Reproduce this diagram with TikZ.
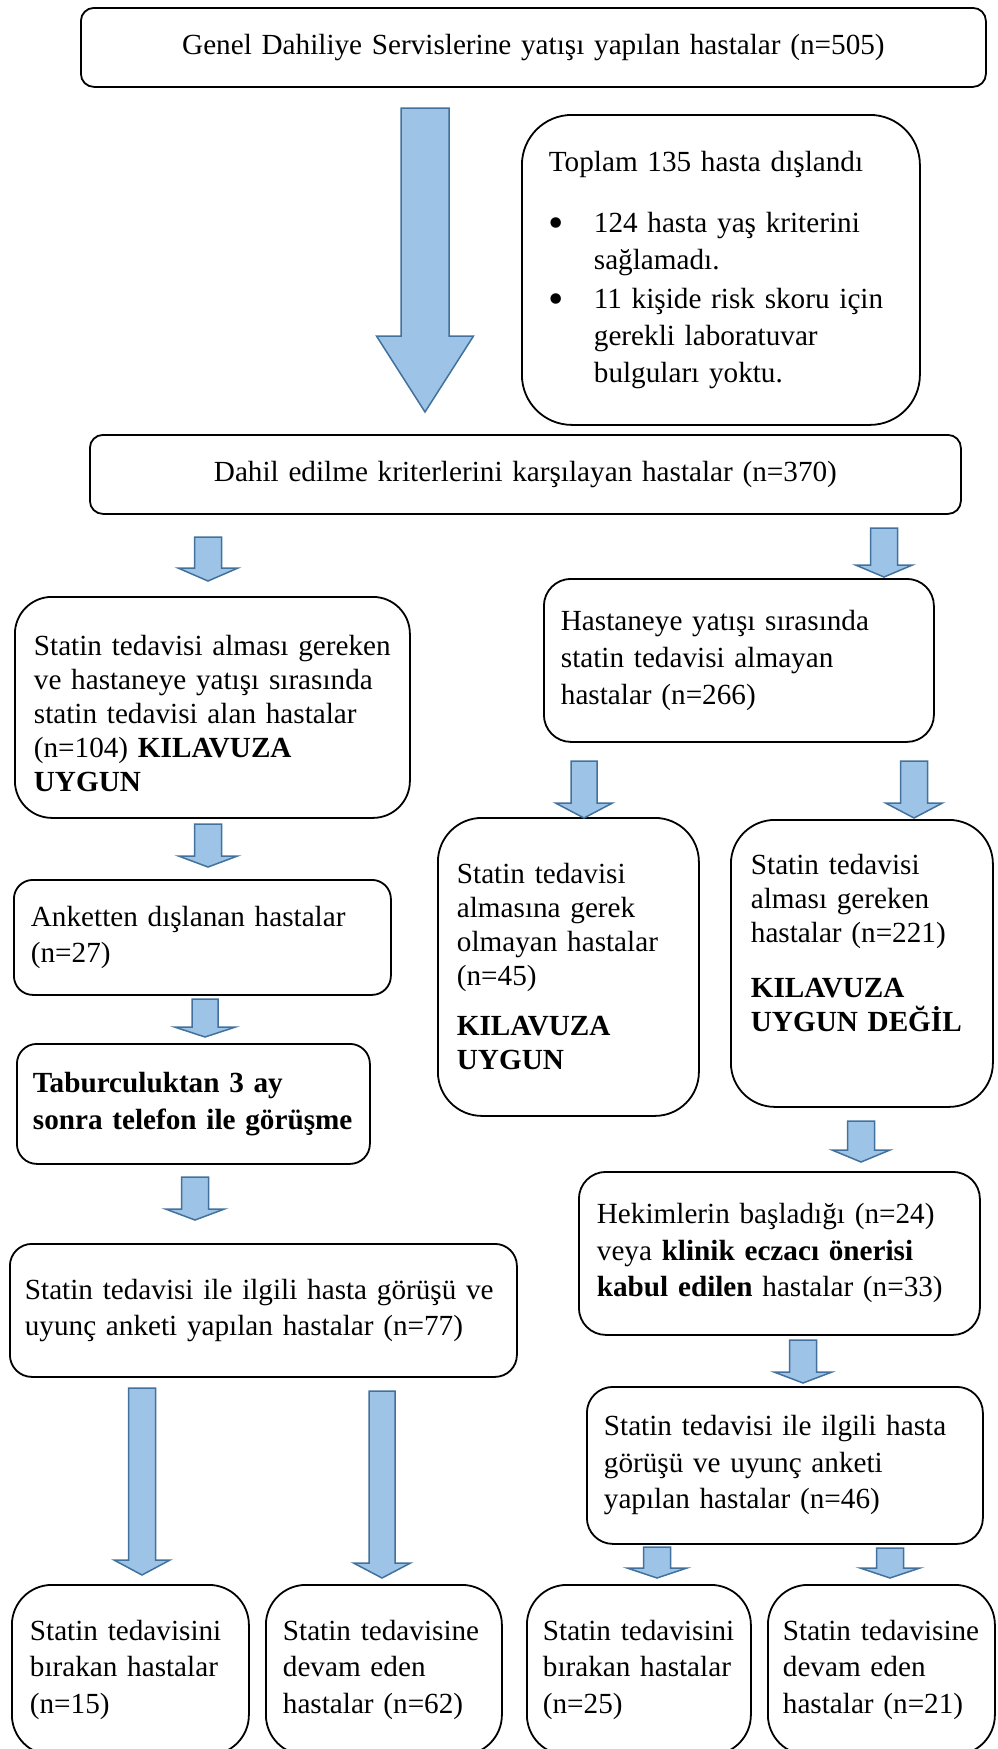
\documentclass[tikz,border=0pt]{standalone}
\usepackage{fontspec}
\setmainfont{Liberation Serif}
\usepackage{graphicx}
\usepackage{xcolor}
\usepackage{tikz}
\usetikzlibrary{positioning}
\definecolor{arrowblue}{HTML}{9DC3E6}
\definecolor{arrowedge}{HTML}{41719C}
\newcommand{\listdot}{\raisebox{-5pt}{\scalebox{1.5}{\textbullet}}}
\hyphenpenalty=10000

\tikzset{
  flowbox/.style={draw, line width=1.8pt, anchor=north west, align=left,
                  inner xsep=17pt, inner ysep=0pt,
                  font=\fontsize{29.2pt}{36.5pt}\selectfont},
  blkfill/.style={draw=arrowedge, fill=arrowblue, line width=1.5pt},
  pics/blkdown/.style args={#1/#2/#3/#4}{code={
    \draw[blkfill] (-#3,0) -- (#3,0) -- (#3,#1-#2) -- (#4,#1-#2)
      -- (0,#1) -- (-#4,#1-#2) -- (-#3,#1-#2) -- cycle;}},
}

\begin{document}
\begin{tikzpicture}[x=1pt, y=-1pt]
  \useasboundingbox (0,0) rectangle (997,1749);

  % top of the chart
  \node[flowbox, align=center, text width=871pt, minimum height=79pt, rounded corners=13pt]
    (admitted) at (80,7) {Genel Dahiliye Servislerine yatışı yapılan hastalar (n=505)};
  \node[flowbox, inner xsep=27pt, text width=344pt, minimum height=310pt, rounded corners=50pt,
        font=\fontsize{29.2pt}{37pt}\selectfont]
    (excluded) at (521,114) {%
      Toplam 135 hasta dışlandı\\[24pt]
      \makebox[45pt][l]{\listdot}124 hasta yaş kriterini\\
      \hspace*{45pt}sağlamadı.\\[2pt]
      \makebox[45pt][l]{\listdot}11 kişide risk skoru için\\
      \hspace*{45pt}gerekli laboratuvar\\
      \hspace*{45pt}bulguları yoktu.};
  \node[flowbox, align=center, text width=837pt, minimum height=79pt, rounded corners=13pt]
    (included) at (89,434) {Dahil edilme kriterlerini karşılayan hastalar (n=370)};

  % left branch
  \node[flowbox, inner xsep=19pt, text width=357pt, minimum height=221pt, rounded corners=37pt,
        font=\fontsize{29.2pt}{34pt}\selectfont]
    (onstatin) at (14,596) {\rule{0pt}{32pt}Statin tedavisi alması gereken\\
      ve hastaneye yatışı sırasında\\
      statin tedavisi alan hastalar\\
      (n=104) \textbf{KILAVUZA}\\
      \textbf{UYGUN}};
  \node[flowbox, text width=343pt, minimum height=115pt, rounded corners=19pt]
    (surveyout) at (13,879) {Anketten dışlanan hastalar\\ (n=27)};
  \node[flowbox, inner xsep=16pt, text width=321pt, minimum height=120pt, rounded corners=20pt]
    (phonecall) at (16,1043) {\textbf{Taburculuktan 3 ay}\\ \textbf{sonra telefon ile görüşme}};
  \node[flowbox, inner xsep=15pt, text width=477pt, minimum height=133pt, rounded corners=22pt]
    (surveyA) at (9,1243) {Statin tedavisi ile ilgili hasta görüşü ve\\
      uyunç anketi yapılan hastalar (n=77)};
  \node[flowbox, inner xsep=18pt, text width=201pt, minimum height=170pt, rounded corners=40pt]
    (quitA) at (11,1584) {Statin tedavisini\\ bırakan hastalar\\ (n=15)};
  \node[flowbox, text width=202pt, minimum height=170pt, rounded corners=40pt]
    (goonA) at (265,1584) {Statin tedavisine\\ devam eden\\ hastalar (n=62)};

  % right branch
  \node[flowbox, text width=356pt, minimum height=163pt, rounded corners=27pt,
        font=\fontsize{29.2pt}{37pt}\selectfont]
    (nostatin) at (543,578) {Hastaneye yatışı sırasında\\
      statin tedavisi almayan\\
      hastalar (n=266)};
  \node[flowbox, inner xsep=19pt, text width=223pt, minimum height=298pt, rounded corners=44pt,
        font=\fontsize{29.2pt}{34pt}\selectfont]
    (noneed) at (437,817) {Statin tedavisi\\ almasına gerek\\ olmayan hastalar\\ (n=45)\\[16pt]
      \textbf{KILAVUZA}\\ \textbf{UYGUN}};
  \node[flowbox, inner xsep=20pt, text width=222pt, minimum height=287pt, rounded corners=44pt,
        font=\fontsize{29.2pt}{34pt}\selectfont]
    (needed) at (730,819) {Statin tedavisi\\ alması gereken\\ hastalar (n=221)\\[21pt]
      \textbf{KILAVUZA}\\ \textbf{UYGUN DEĞİL}\rule[-41pt]{0pt}{41pt}};
  \node[flowbox, inner xsep=18pt, text width=365pt, minimum height=163pt, rounded corners=27pt]
    (started) at (578,1171) {Hekimlerin başladığı (n=24)\\
      veya \textbf{klinik eczacı önerisi}\\
      \textbf{kabul edilen} hastalar (n=33)};
  \node[flowbox, text width=362pt, minimum height=157pt, rounded corners=26pt]
    (surveyB) at (586,1386) {Statin tedavisi ile ilgili hasta\\
      görüşü ve uyunç anketi\\
      yapılan hastalar (n=46)};
  \node[flowbox, inner xsep=16pt, text width=192pt, minimum height=170pt, rounded corners=40pt]
    (quitB) at (526,1584) {Statin tedavisini\\ bırakan hastalar\\ (n=25)};
  \node[flowbox, inner xsep=15pt, text width=197pt, minimum height=170pt, rounded corners=40pt]
    (goonB) at (767,1584) {Statin tedavisine\\ devam eden\\ hastalar (n=21)};

  % block arrows: length/head/shaft half/head half
  \pic at (425,108)  {blkdown=304/76/24/48.5};
  \pic at (208,537)  {blkdown=44/13/13.5/30};
  \pic at (884,528)  {blkdown=49/12/13.5/28.5};
  \pic at (208,824)  {blkdown=43/11/13.5/29.5};
  \pic at (584,761)  {blkdown=57/15/13/28.5};
  \pic at (914,761)  {blkdown=57/15/13.5/28.5};
  \pic at (205,999)  {blkdown=38/10/13/30.5};
  \pic at (861,1121) {blkdown=41/12/13.5/29};
  \pic at (195,1177) {blkdown=43/11/13.5/29.5};
  \pic at (803,1340) {blkdown=43/11/13.5/29};
  \pic at (142,1388) {blkdown=187/15/13.5/28};
  \pic at (382,1391) {blkdown=187/15/13/28.5};
  \pic at (657,1547) {blkdown=31/10/13.5/30};
  \pic at (890,1548) {blkdown=30/10/13.5/30};
\end{tikzpicture}
\end{document}
